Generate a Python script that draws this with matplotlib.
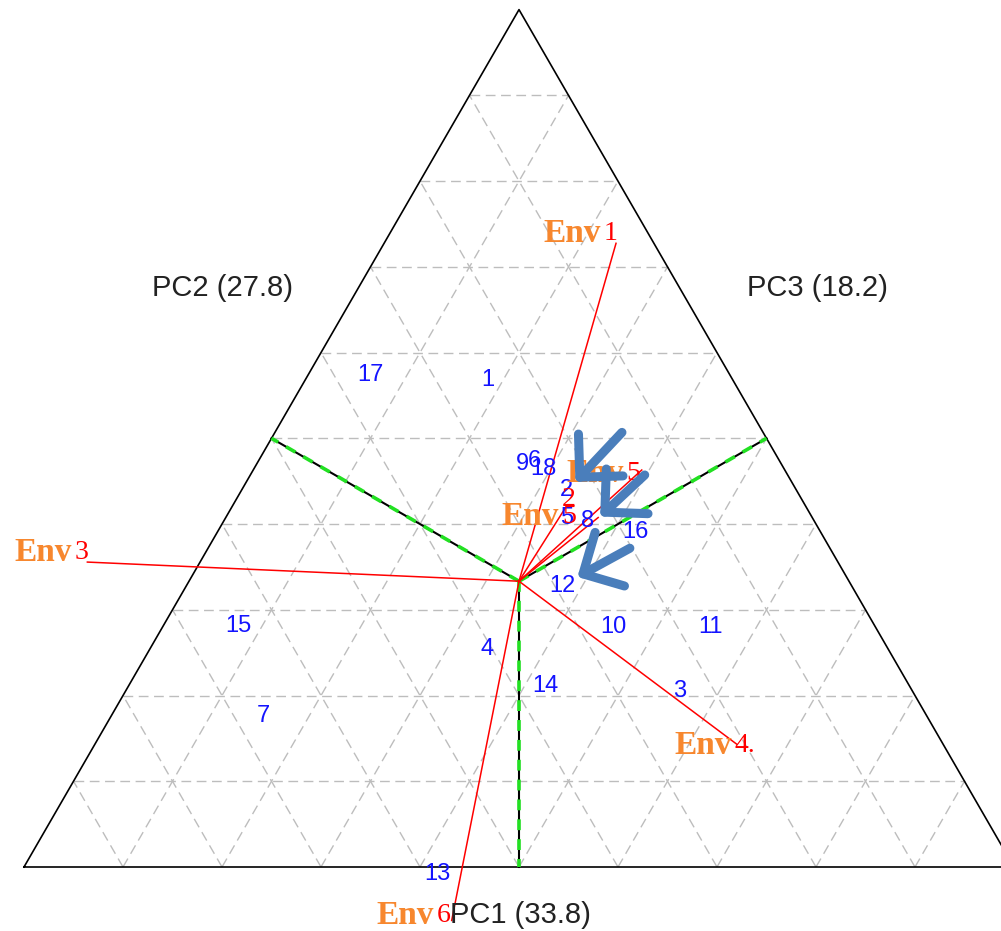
import matplotlib.pyplot as plt
import numpy as np
from matplotlib.patches import FancyArrowPatch

# sample scores, in triangle coordinates (side length = 1)
sample_ids = ["17", "1", "9", "6", "18", "2", "5", "8", "16",
              "12", "10", "11", "3", "4", "14", "15", "7", "13"]
sample_x = [0.350, 0.469, 0.503, 0.516, 0.525, 0.548, 0.548, 0.569, 0.618,
            0.544, 0.595, 0.693, 0.662, 0.468, 0.527, 0.217, 0.242, 0.418]
sample_y = [0.497, 0.492, 0.407, 0.410, 0.402, 0.381, 0.353, 0.349, 0.338,
            0.284, 0.242, 0.242, 0.178, 0.220, 0.183, 0.243, 0.153, -0.007]

# environment vectors (tips; all start at the centroid)
env_word = ["Env", "", "Env", "Env", "Env", "Env", "Env"]
env_num = ["1", "2", "5", "5", "3", "4.", "6"]
env_x = [0.598, 0.547, 0.580, 0.624, 0.064, 0.720, 0.432]
env_y = [0.630, 0.363, 0.353, 0.401, 0.308, 0.124, -0.054]
# where the number sits relative to the tip (pixels)
env_off = [(-12, 10), (-4, 8), (-36, 1), (-15, -3), (-13, 10), (-2, -1), (-15, 5)]

# highlight arrows (tail -> head)
mark_tail = [(0.604, 0.439), (0.627, 0.396), (0.612, 0.322)]
mark_head = [(0.557, 0.389), (0.582, 0.354), (0.559, 0.293)]

axis_labels = ["PC1 (33.8)", "PC2 (27.8)", "PC3 (18.2)"]

h = np.sqrt(3) / 2
cx, cy = 0.5, h / 3

fig = plt.figure(figsize=(10.01, 9.31), dpi=100)
ax = fig.add_axes([0, 0, 1, 1])
ax.set_xlim(-24 / 990, 977 / 990)
ax.set_ylim(-64 / 990, 867 / 990)
ax.axis("off")

# dashed grid, 10 divisions along each side
grid_kw = dict(color="#bdbdbd", lw=1, linestyle=(0, (7, 4)), zorder=1)
for i in range(1, 10):
    t = i / 10
    ax.plot([t / 2, 1 - t / 2], [t * h, t * h], **grid_kw)
    ax.plot([t, t + (1 - t) / 2], [0, (1 - t) * h], **grid_kw)
    ax.plot([t, t / 2], [0, t * h], **grid_kw)

# outline
ax.plot([0, 1, 0.5, 0], [0, 0, h, 0], color="black", lw=1.2, zorder=2)

# lines from the centroid to the side midpoints
for mx, my in [(0.25, h / 2), (0.75, h / 2), (0.5, 0)]:
    ax.plot([cx, mx], [cy, my], color="black", lw=1.5, zorder=3)
    ax.plot([cx, mx], [cy, my], color="#22e022", lw=2.6,
            linestyle=(0, (3, 2.5)), zorder=3)

# environment vectors
for x, y in zip(env_x, env_y):
    ax.plot([cx, x], [cy, y], color="red", lw=1.1, zorder=4)

# sample labels
for sid, x, y in zip(sample_ids, sample_x, sample_y):
    ax.text(x, y, sid, color="#1414ff", fontsize=17, family="Liberation Sans",
            ha="center", va="center", zorder=5)

# environment labels
for w, n, x, y, (dx, dy) in zip(env_word, env_num, env_x, env_y, env_off):
    ax.annotate(n, (x, y), xytext=(dx * 0.72, dy * 0.72), textcoords="offset points",
                color="red", fontsize=20, family="Liberation Serif",
                ha="left", va="center", zorder=6)
    if w:
        ax.annotate(w, (x, y), xytext=((dx - 3) * 0.72, dy * 0.72),
                    textcoords="offset points", color="#f7872e", fontsize=24,
                    family="Liberation Serif", fontweight="bold",
                    ha="right", va="center", zorder=6)

# axis titles
ax.text(0.501, -0.048, axis_labels[0], fontsize=21, family="Liberation Sans",
        color="#222222", ha="center", va="center", zorder=6)
ax.text(0.200, 0.585, axis_labels[1], fontsize=21, family="Liberation Sans",
        color="#222222", ha="center", va="center")
ax.text(0.801, 0.585, axis_labels[2], fontsize=21, family="Liberation Sans",
        color="#222222", ha="center", va="center")

# highlight arrows
for tail, head in zip(mark_tail, mark_head):
    ax.add_patch(FancyArrowPatch(tail, head, arrowstyle="->,head_length=1,head_width=1",
                                 mutation_scale=22, lw=6.5, color="#4a7ebb",
                                 shrinkA=0, shrinkB=0, zorder=7))

fig.savefig("out.png", dpi=100)
